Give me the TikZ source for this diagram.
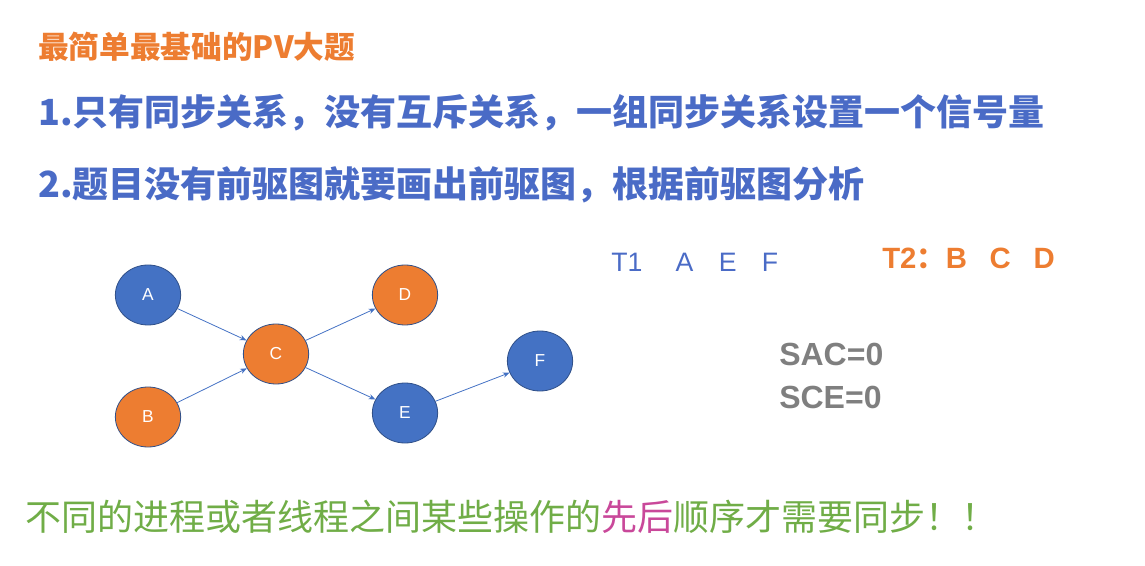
\documentclass[tikz,border=0pt]{standalone}
\usepackage{fontspec}
\setmainfont{Noto Sans CJK SC}
\newfontfamily\lat{Liberation Sans}
\usetikzlibrary{arrows.meta,shapes.geometric}
\definecolor{nblue}{HTML}{4472C4}
\definecolor{norange}{HTML}{ED7D31}
\definecolor{tblue}{HTML}{4A6BC6}
\definecolor{tgreen}{HTML}{70AD47}
\definecolor{tpink}{HTML}{C9489A}
\definecolor{tgray}{HTML}{7F7F7F}
\tikzset{
  circ/.style={ellipse, draw=nblue!70!black, line width=0.6pt, minimum width=49pt, minimum height=45pt, inner sep=0pt, font=\lat\fontsize{13}{13}\selectfont, text=white},
  bluec/.style={circ, fill=nblue},
  orangec/.style={circ, fill=norange},
  arr/.style={draw=nblue, line width=0.6pt, -{Stealth[length=5pt,width=4pt]}},
  big/.style={anchor=west, font=\fontsize{27}{27}\selectfont\bfseries, text=tblue, inner sep=0pt}
}
\begin{document}
\begin{tikzpicture}[x=0.75pt,y=-0.75pt]
\useasboundingbox (0,0) rectangle (1145,566);
\node[anchor=west, inner sep=0pt, text=norange, font=\fontsize{23}{23}\selectfont\bfseries] (title) at (38,47) {最简单最基础的PV大题};
\node[big] (l1) at (38,113) {1.只有同步关系，没有互斥关系，一组同步关系设置一个信号量};
\node[big] (l2) at (38,185) {2.题目没有前驱图就要画出前驱图，根据前驱图分析};
\node[bluec] (A) at (148,295) {A};
\node[orangec] (D) at (405,295) {D};
\node[orangec] (C) at (276,354) {C};
\node[bluec] (F) at (540,361) {F};
\node[orangec] (B) at (148,417) {B};
\node[bluec] (E) at (405,413) {E};
\draw[arr] (A) -- (C);
\draw[arr] (B) -- (C);
\draw[arr] (C) -- (D);
\draw[arr] (C) -- (E);
\draw[arr] (E) -- (F);
\node[anchor=west, inner sep=0pt, text=tblue, font=\lat\fontsize{20}{20}\selectfont] (t1) at (611,262) {T1\hspace{25pt}A\hspace{19pt}E\hspace{19pt}F};
\node[anchor=west, inner sep=0pt, text=norange, font=\lat\fontsize{22}{22}\selectfont\bfseries] (t2) at (882,258) {T2{\fontspec{Noto Sans CJK SC}：}B\hspace{17pt}C\hspace{17pt}D};
\node[anchor=west, inner sep=0pt, text=tgray, font=\lat\fontsize{24}{32}\selectfont\bfseries, align=left] (s) at (779,376) {SAC=0\\SCE=0};
\node[anchor=west, inner sep=0pt, text=tgreen, font=\fontsize{27}{27}\selectfont] (bot) at (25,517) {不同的进程或者线程之间某些操作的\textcolor{tpink}{先后}顺序才需要同步！！};
\end{tikzpicture}
\end{document}
